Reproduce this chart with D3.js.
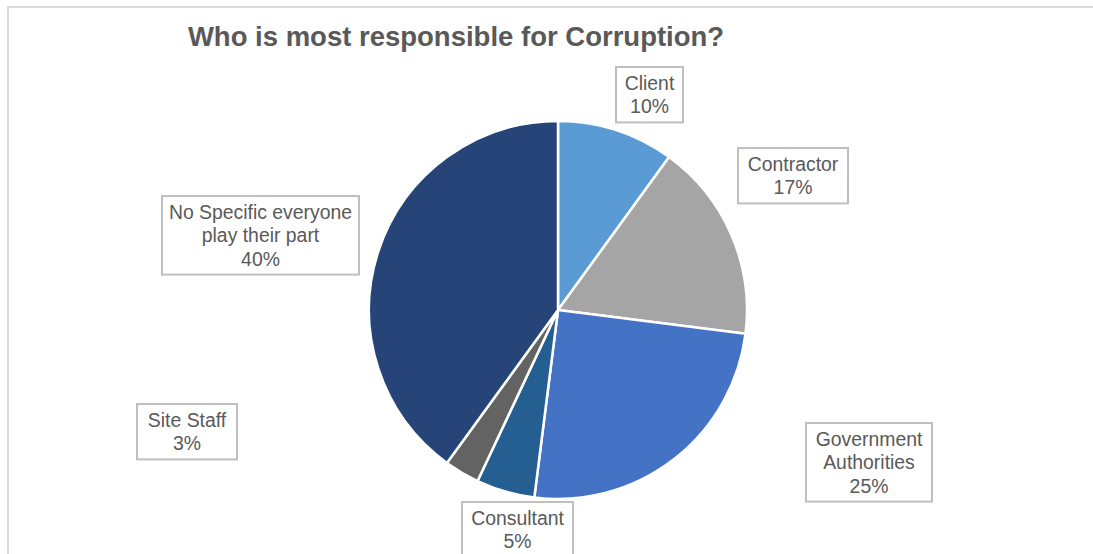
<!DOCTYPE html>
<html>
<head>
<meta charset="utf-8">
<script src="https://cdn.jsdelivr.net/npm/d3@7"></script>
<style>
  body{margin:0;background:#fff;}
  svg{display:block;font-family:"Liberation Sans",Arial,sans-serif;}
</style>
</head>
<body>
<div id="chart"></div>
<script>
const title="Who is most responsible for Corruption?";
const categories=["Client","Contractor","Government Authorities","Consultant","Site Staff","No Specific everyone play their part"];
const values=[10,17,25,5,3,40];
const colors=["#5b9bd5","#a5a5a5","#4472c4","#255e91","#636363","#264478"];
// label text lines and box placement (layout only)
const labelLines=[["Client"],["Contractor"],["Government","Authorities"],["Consultant"],["Site Staff"],["No Specific everyone","play their part"]];
const labelBoxes=[[616,67,67],[738,148,110],[806,423,126],[462,502,111],[137,404,100],[162,196,197]];

const w=1093, h=554;
const cx=558, cy=310, r=189;
const lineH=23.2;

const svg=d3.select("#chart").append("svg").attr("width",w).attr("height",h);

svg.append("rect")
   .attr("x",8).attr("y",7)
   .attr("width",1200).attr("height",700)
   .attr("fill","none").attr("stroke","#d9d9d9").attr("stroke-width",2);

svg.append("text")
   .text(title)
   .attr("x",456).attr("y",46)
   .attr("text-anchor","middle")
   .attr("font-size",27.5).attr("font-weight","bold")
   .attr("fill","#595959");

const data=categories.map((c,i)=>({name:c,value:values[i],color:colors[i]}));
const pie=d3.pie().sort(null).value(d=>d.value);
const arc=d3.arc().innerRadius(0).outerRadius(r);

const g=svg.append("g").attr("transform",`translate(${cx},${cy})`);
g.selectAll("path")
 .data(pie(data))
 .enter()
 .append("path")
 .attr("d",arc)
 .attr("fill",d=>d.data.color)
 .attr("stroke","#fff")
 .attr("stroke-width",2.5)
 .attr("stroke-linejoin","round");

const total=d3.sum(values);
data.forEach((d,i)=>{
  const lines=labelLines[i].concat([Math.round(d.value/total*100)+"%"]);
  const [bx,by,bw]=labelBoxes[i];
  const bh=lines.length*lineH+9;
  const lg=svg.append("g");
  lg.append("rect")
    .attr("x",bx).attr("y",by).attr("width",bw).attr("height",bh)
    .attr("fill","#fff").attr("stroke","#bfbfbf").attr("stroke-width",2);
  const mid=by+bh/2;
  lines.forEach((t,j)=>{
    lg.append("text")
      .text(t)
      .attr("x",bx+bw/2)
      .attr("y",mid+(j-(lines.length-1)/2)*lineH+7)
      .attr("text-anchor","middle")
      .attr("font-size",19.4)
      .attr("fill","#595959");
  });
});
</script>
</body>
</html>
